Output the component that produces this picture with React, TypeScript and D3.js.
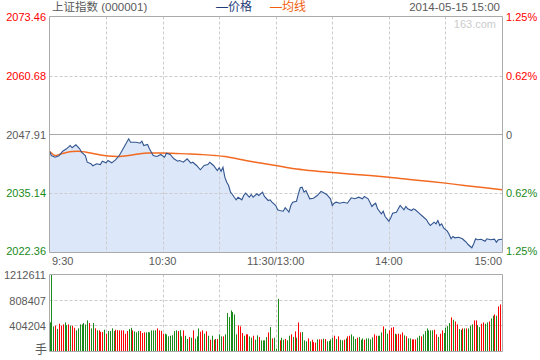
import React from 'react';
import * as d3 from 'd3';

const title = '上证指数 (000001)';
const dateLabel = '2014-05-15 15:00';
const legendItems = ['价格', '均线'];
const priceTicks = [2073.46, 2060.68, 2047.91, 2035.14, 2022.36];
const pctTicks = ['1.25%', '0.62%', '0', '0.62%', '1.25%'];
const tickTone = ['up', 'up', 'flat', 'down', 'down'];
const timeLabels = ['9:30', '10:30', '11:30/13:00', '14:00', '15:00'];
const timeLabelMinutes = [0, 60, 120, 180, 240];
const volTicks = [1212611, 808407, 404204];
const volUnit = '手';

const priceMinutes = [0,1,3,5,7,9,11,12,14,16,17,19,20,22,23,25,27,28,30,31,33,35,37,38,40,42,43,46,48,49,50,52,53,55,57,59,61,62,64,66,68,69,71,73,75,76,78,80,82,84,85,87,89,90,91,92,93,94,95,96,97,98,99,100,102,103,104,106,107,108,110,111,113,114,116,117,118,120,121,122,124,125,126,127,128,129,131,132,133,134,135,136,137,138,140,142,144,145,147,149,150,151,152,154,156,158,160,162,164,166,167,169,171,172,173,174,176,177,178,180,181,182,184,185,186,188,189,190,192,193,194,196,198,200,201,202,204,205,206,207,208,209,211,212,213,214,215,217,219,220,221,222,224,225,226,227,229,231,232,234,236,237,238,240];
const prices = [2044.29,2043.36,2042.99,2043.30,2044.29,2044.81,2045.53,2045.03,2045.68,2044.81,2044.08,2043.36,2041.91,2041.57,2041.13,2041.57,2041.41,2042.13,2041.78,2042.28,2041.78,2042.43,2043.36,2044.08,2045.53,2046.98,2046.24,2046.24,2046.03,2046.46,2045.53,2045.74,2044.81,2043.36,2043.15,2043.58,2042.99,2043.86,2043.58,2042.65,2042.13,2042.28,2041.91,2042.65,2041.70,2041.91,2041.20,2040.27,2041.20,2041.41,2041.91,2041.20,2040.12,2040.70,2039.96,2040.83,2038.66,2037.58,2036.87,2035.42,2034.92,2034.33,2033.77,2034.33,2033.77,2034.70,2035.20,2034.33,2034.92,2034.33,2035.07,2034.70,2035.42,2034.49,2033.62,2033.77,2033.25,2032.54,2031.61,2031.45,2031.30,2032.04,2031.61,2031.09,2032.54,2033.25,2033.47,2035.07,2036.37,2036.50,2035.42,2035.78,2034.92,2033.99,2034.12,2034.70,2035.57,2035.42,2034.92,2033.99,2032.54,2033.03,2033.25,2033.03,2033.25,2033.03,2034.20,2033.99,2034.33,2033.99,2034.49,2033.99,2032.32,2032.75,2033.03,2031.82,2030.74,2031.30,2030.15,2029.14,2029.87,2030.87,2031.09,2031.82,2032.54,2031.61,2032.32,2031.82,2031.45,2031.82,2031.61,2030.87,2030.15,2029.44,2028.70,2028.21,2028.92,2028.57,2029.29,2028.21,2028.57,2027.71,2026.97,2026.26,2025.33,2025.82,2025.54,2025.67,2025.33,2024.96,2024.59,2024.09,2023.38,2024.24,2025.33,2025.11,2025.24,2024.81,2025.33,2025.11,2025.24,2024.59,2025.11,2025.24];

const avgMinutes = [0,2,3,6,9,12,15,19,23,27,31,36,42,47,52,59,67,75,80,88,93,99,104,112,120,130,138,148,159,170,180,191,202,210,220,231,240];
const avgPrices = [2044.29,2043.58,2043.36,2043.69,2044.01,2044.23,2044.29,2044.12,2043.80,2043.47,2043.25,2043.15,2043.36,2043.69,2043.90,2043.90,2043.80,2043.69,2043.58,2043.36,2043.15,2042.71,2042.28,2041.74,2041.20,2040.48,2040.12,2039.75,2039.36,2039.03,2038.66,2038.17,2037.73,2037.37,2036.87,2036.37,2035.94];

const volumes = [
  454000,1212611,390000,400000,348000,432000,400000,422000,454000,410000,
  422000,400000,400000,368000,327000,359000,422000,422000,443000,420000,
  485000,443000,359000,443000,359000,327000,327000,305000,300000,337000,
  274000,316000,316000,359000,316000,337000,330000,327000,327000,327000,
  274000,316000,348000,368000,327000,310000,296000,316000,316000,285000,
  296000,296000,300000,296000,327000,327000,327000,359000,327000,320000,
  274000,274000,264000,232000,242000,250000,316000,327000,316000,330000,
  232000,327000,242000,190000,221000,211000,327000,195000,232000,358000,
  306000,327000,274000,311000,242000,179000,242000,179000,190000,190000,
  264000,232000,232000,264000,601000,538000,643000,617000,580000,264000,
  406000,390000,285000,242000,264000,264000,232000,211000,242000,179000,
  248000,221000,169000,169000,169000,221000,295000,379000,200000,210000,
  37000,827000,169000,211000,179000,190000,169000,242000,264000,221000,
  311000,211000,453000,295000,300000,169000,153000,200000,153000,179000,
  142000,132000,184000,184000,184000,195000,190000,153000,158000,184000,
  211000,242000,190000,232000,179000,169000,179000,200000,232000,242000,
  264000,232000,190000,211000,220000,
  179000,200000,179000,200000,200000,184000,216000,264000,242000,242000,
  242000,295000,390000,353000,274000,327000,369000,379000,274000,264000,
  274000,264000,295000,248000,232000,200000,200000,184000,184000,184000,
  211000,242000,232000,264000,316000,358000,327000,327000,327000,337000,
  264000,221000,274000,327000,285000,369000,395000,443000,532000,495000,
  469000,422000,348000,337000,358000,358000,358000,358000,400000,422000,
  485000,485000,411000,379000,432000,453000,432000,453000,469000,516000,
  559000,580000,559000,706000,738000,11000
];
// 1 = up (red), 0 = down (green)
const volUp = [
  0,0,0,1,0,1,1,1,0,0,
  1,0,1,1,0,0,0,0,0,0,
  0,1,0,0,1,0,1,1,1,0,
  1,0,0,0,0,1,1,1,1,1,
  1,1,0,0,1,0,0,0,1,1,
  1,0,0,0,0,0,0,1,1,1,
  1,0,0,0,0,0,0,0,1,0,
  0,1,0,0,1,0,1,0,0,0,
  1,1,0,1,0,1,0,1,0,1,
  0,0,1,0,0,0,0,0,0,0,
  1,1,1,0,1,1,0,0,1,0,
  0,1,0,0,0,0,1,0,1,0,
  0,0,1,0,0,1,0,0,1,0,
  1,0,1,1,0,0,0,1,0,1,
  1,1,0,1,1,0,1,0,0,0,
  0,1,0,1,0,0,1,0,1,1,
  0,0,0,1,0,
  0,0,1,0,0,0,0,1,1,0,
  0,0,1,0,0,1,1,1,0,1,
  1,1,1,0,1,0,0,1,1,1,
  0,0,1,0,0,0,0,0,0,1,
  1,0,1,1,0,0,0,0,1,0,
  1,1,0,0,1,0,1,0,0,0,
  1,1,0,0,1,1,0,0,1,0,
  0,1,0,1,1,1
];

const FONT = "'Liberation Sans', Arial, 'Noto Sans CJK SC', sans-serif";
const RED = '#ff0000';
const GREEN = '#1a8a1a';
const GRAY_TEXT = '#5a5a5a';
const BORDER = '#aaaaaa';
const GRID = '#cccccc';

export default function App() {
  const W = 540, H = 360;
  const left = 49.5, right = 502.5;
  const pTop = 16.5, pBottom = 252.5;
  const vTop = 274.5, vBottom = 351.5;

  const x = d3.scaleLinear().domain([0, 240]).range([49.5, 502]);
  const yP = d3.scaleLinear().domain([2022.36, 2073.46]).range([252.5, 16.5]);
  const yV = d3.scaleLinear().domain([0, 1212611]).range([351, 274.5]);

  const pricePts = priceMinutes.map((m, i) => [m, prices[i]] as [number, number]);
  const avgPts = avgMinutes.map((m, i) => [m, avgPrices[i]] as [number, number]);

  const line = d3.line<[number, number]>().x(d => x(d[0])).y(d => yP(d[1]));
  const area = d3.area<[number, number]>().x(d => x(d[0])).y0(pBottom).y1(d => yP(d[1]));
  const avgLine = d3.line<[number, number]>().x(d => x(d[0])).y(d => yP(d[1])).curve(d3.curveMonotoneX);

  const vGridMinutes = d3.range(30, 240, 30);
  const toneColor = (t: string) => (t === 'up' ? RED : t === 'down' ? GREEN : GRAY_TEXT);

  return (
    <svg width={W} height={H} style={{ position: 'absolute', left: 0, top: 0, background: '#fff' }} fontFamily={FONT}>
      <rect x={0} y={0} width={W} height={H} fill="#fff" />
      {/* header */}
      <text x={52} y={7} fontSize={11.5} fill={GRAY_TEXT} dominantBaseline="central">{title}</text>
      <text x={216} y={7} fontSize={12} fill="#1f3c78" dominantBaseline="central">{'—' + legendItems[0]}</text>
      <text x={270} y={7} fontSize={12} fill="#f06010" dominantBaseline="central">{'—' + legendItems[1]}</text>
      <text x={500} y={7} fontSize={11.5} fill={GRAY_TEXT} textAnchor="end" dominantBaseline="central">{dateLabel}</text>

      {/* price area */}
      <path d={area(pricePts) || ''} fill="#dce7f9" />
      {/* grid price */}
      {vGridMinutes.map(m => {
        const gx = Math.round(x(m)) + 0.5;
        return (
          <g key={'vg' + m}>
            <line x1={gx} x2={gx} y1={pTop} y2={pBottom} stroke={GRID} strokeDasharray="3,2" />
            <line x1={gx} x2={gx} y1={vTop} y2={vBottom} stroke={GRID} strokeDasharray="3,2" />
          </g>
        );
      })}
      {[priceTicks[1], priceTicks[3]].map(v => {
        const gy = Math.round(yP(v)) + 0.5;
        return <line key={'hg' + v} x1={left} x2={right} y1={gy} y2={gy} stroke={GRID} strokeDasharray="3,2" />;
      })}
      {[volTicks[1], volTicks[2]].map(v => {
        const gy = Math.round(yV(v)) + 0.5;
        return <line key={'vhg' + v} x1={left} x2={right} y1={gy} y2={gy} stroke={GRID} strokeDasharray="3,2" />;
      })}
      {/* prev close line */}
      <line x1={left} x2={right} y1={Math.round(yP(priceTicks[2])) + 0.5} y2={Math.round(yP(priceTicks[2])) + 0.5} stroke={BORDER} />

      {/* lines */}
      <path d={avgLine(avgPts) || ''} fill="none" stroke="#f26a21" strokeWidth={1.4} />
      <path d={line(pricePts) || ''} fill="none" stroke="#32558f" strokeWidth={1.1} />

      {/* borders */}
      <line x1={left} x2={right} y1={pTop} y2={pTop} stroke={BORDER} />
      <line x1={left} x2={right} y1={pBottom} y2={pBottom} stroke={BORDER} />
      <line x1={left} x2={left} y1={pTop} y2={pBottom} stroke={BORDER} />
      <line x1={right} x2={right} y1={pTop} y2={pBottom} stroke={BORDER} />

      {/* volume bars */}
      {volumes.map((v, i) => {
        const bx = Math.round(x(i));
        const by = yV(v);
        return <rect key={'b' + i} x={bx} y={by} width={1} height={Math.max(0.5, 351 - by)} fill={volUp[i] ? RED : GREEN} />;
      })}
      <line x1={left} x2={right} y1={vTop} y2={vTop} stroke={BORDER} />
      <line x1={left} x2={right} y1={vBottom} y2={vBottom} stroke={BORDER} />
      <line x1={left} x2={left} y1={vTop} y2={vBottom} stroke={BORDER} />
      <line x1={right} x2={right} y1={vTop} y2={vBottom} stroke={BORDER} />

      {/* left price labels */}
      {priceTicks.map((v, i) => (
        <text key={'pl' + i} x={46} y={i === priceTicks.length - 1 ? yP(v) - 1.5 : yP(v)} fontSize={11} fill={toneColor(tickTone[i])} textAnchor="end" dominantBaseline="central">{v.toFixed(2)}</text>
      ))}
      {pctTicks.map((t, i) => (
        <text key={'pr' + i} x={506} y={i === pctTicks.length - 1 ? yP(priceTicks[i]) - 1.5 : yP(priceTicks[i])} fontSize={11} fill={toneColor(tickTone[i])} textAnchor="start" dominantBaseline="central">{t}</text>
      ))}
      {/* time labels */}
      {timeLabels.map((t, i) => (
        <text key={'t' + i} x={i === 0 ? 52 : i === timeLabels.length - 1 ? 502 : x(timeLabelMinutes[i])} y={261} fontSize={11} fill={GRAY_TEXT}
          textAnchor={i === 0 ? 'start' : i === timeLabels.length - 1 ? 'end' : 'middle'} dominantBaseline="central">{t}</text>
      ))}
      {/* volume labels */}
      {volTicks.map((v, i) => (
        <text key={'vl' + i} x={46} y={yV(v) + 0.5} fontSize={11} fill={GRAY_TEXT} textAnchor="end" dominantBaseline="central">{String(v)}</text>
      ))}
      <text x={47} y={350} fontSize={12} fill={GRAY_TEXT} textAnchor="end" dominantBaseline="central">{volUnit}</text>
      <text x={496} y={24} fontSize={11} fill="#cccccc" textAnchor="end" dominantBaseline="central">163.com</text>
    </svg>
  );
}
